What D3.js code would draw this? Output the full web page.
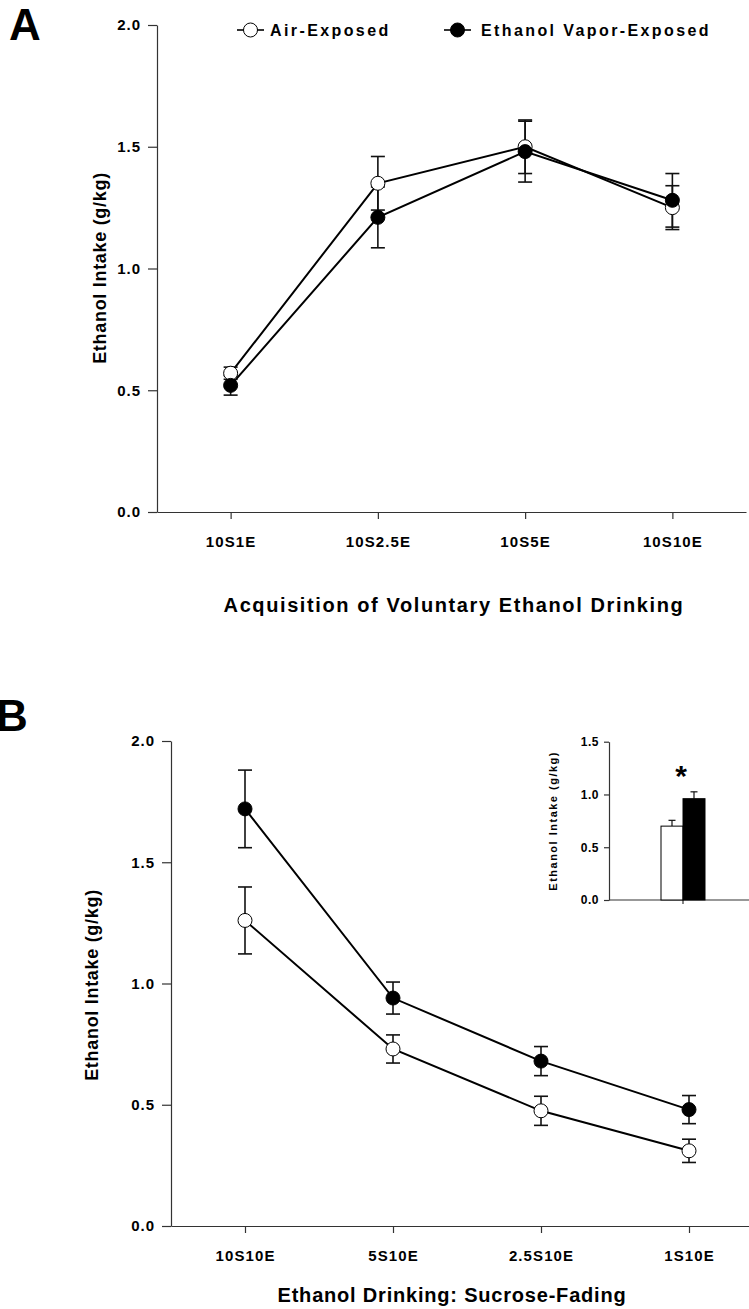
<!DOCTYPE html>
<html>
<head>
<meta charset="utf-8">
<script src="https://cdn.jsdelivr.net/npm/d3@7"></script>
<style>
  body { margin: 0; background: #fff; }
  svg { display: block; font-family: "Liberation Sans", Arial, sans-serif; font-weight: bold; }
  .axis path, .axis line { stroke: #333; stroke-width: 1.2; }
  .axis text { fill: #000; font-weight: bold; }
  .dataLine { fill: none; stroke: #000; stroke-width: 2; }
  .errBar { stroke: #111; stroke-width: 1.6; }
</style>
</head>
<body>
<div class="chart"></div>
<script>
var w = 749;
var h = 1309;

// panel A - acquisition
var catsA = ["10S1E", "10S2.5E", "10S5E", "10S10E"];
var airA = [0.57, 1.35, 1.50, 1.25];
var airAErr = [0.025, 0.11, 0.11, 0.09];
var ethA = [0.52, 1.21, 1.48, 1.28];
var ethAErr = [0.04, 0.125, 0.125, 0.11];

// panel B - sucrose fading
var catsB = ["10S10E", "5S10E", "2.5S10E", "1S10E"];
var airB = [1.26, 0.73, 0.475, 0.31];
var airBErr = [0.138, 0.058, 0.06, 0.048];
var ethB = [1.72, 0.94, 0.68, 0.48];
var ethBErr = [0.16, 0.066, 0.06, 0.058];

// inset bars (panel B)
var insetGroups = ["Air-Exposed", "Ethanol Vapor-Exposed"];
var insetVals = [0.70, 0.96];
var insetErr = [0.055, 0.065];

var yTicks = [0, 0.5, 1.0, 1.5, 2.0];
var insetTicks = [0, 0.5, 1.0, 1.5];
var seriesNames = ["Air-Exposed", "Ethanol Vapor-Exposed"];
var seriesFill = ["#fff", "#000"];

var svg = d3.select(".chart").append("svg")
  .attr("width", w)
  .attr("height", h);

svg.append("rect").attr("width", w).attr("height", h).attr("fill", "#fff");

var fmt = d3.format(".1f");

var linePanel = function(opt) {
  var xScale = d3.scalePoint()
    .domain(opt.cats)
    .range([opt.left, opt.right])
    .padding(0.5);
  var yScale = d3.scaleLinear()
    .domain([0, 2])
    .range([opt.bottom, opt.top]);

  var yAxis = d3.axisLeft(yScale)
    .tickValues(yTicks)
    .tickFormat(fmt)
    .tickSize(9)
    .tickPadding(7)
    .tickSizeOuter(0);
  var xAxis = d3.axisBottom(xScale)
    .tickSize(7)
    .tickPadding(17)
    .tickSizeOuter(0);

  var gy = svg.append("g")
    .attr("class", "axis")
    .attr("transform", "translate(" + opt.left + ",0)")
    .call(yAxis);
  gy.selectAll("text").style("font-size", "15px").style("letter-spacing", "1px");

  var gx = svg.append("g")
    .attr("class", "axis")
    .attr("transform", "translate(0," + opt.bottom + ")")
    .call(xAxis);
  gx.selectAll("text").style("font-size", "15px").style("letter-spacing", "1.1px");

  svg.append("text")
    .attr("text-anchor", "middle")
    .attr("transform", "translate(" + opt.yLabelX + "," + opt.yLabelY + ") rotate(-90)")
    .style("font-size", "18px")
    .style("letter-spacing", "0.7px")
    .text("Ethanol Intake (g/kg)");

  svg.append("text")
    .attr("text-anchor", "middle")
    .attr("x", opt.titleX)
    .attr("y", opt.titleY)
    .style("font-size", "20px")
    .style("letter-spacing", opt.titleSpacing)
    .text(opt.title);

  svg.append("text")
    .attr("x", opt.letterX)
    .attr("y", opt.letterY)
    .style("font-size", "44px")
    .text(opt.letter);

  var series = [
    {vals: opt.air, err: opt.airErr, fill: seriesFill[0]},
    {vals: opt.eth, err: opt.ethErr, fill: seriesFill[1]}
  ];

  var line = d3.line()
    .x(function(d, i) { return xScale(opt.cats[i]); })
    .y(function(d) { return yScale(d); });

  series.forEach(function(s) {
    svg.append("path")
      .datum(s.vals)
      .attr("class", "dataLine")
      .attr("d", line);
  });

  series.forEach(function(s) {
    var g = svg.append("g");
    s.vals.forEach(function(v, i) {
      var cx = xScale(opt.cats[i]);
      g.append("line").attr("class", "errBar")
        .attr("x1", cx).attr("x2", cx)
        .attr("y1", yScale(v - s.err[i])).attr("y2", yScale(v + s.err[i]));
      [v - s.err[i], v + s.err[i]].forEach(function(e) {
        g.append("line").attr("class", "errBar")
          .attr("x1", cx - 7).attr("x2", cx + 7)
          .attr("y1", yScale(e)).attr("y2", yScale(e));
      });
    });
  });

  series.forEach(function(s) {
    svg.append("g").selectAll("circle")
      .data(s.vals)
      .enter()
      .append("circle")
      .attr("cx", function(d, i) { return xScale(opt.cats[i]); })
      .attr("cy", function(d) { return yScale(d); })
      .attr("r", 7)
      .attr("fill", s.fill)
      .attr("stroke", "#000")
      .attr("stroke-width", 1);
  });
};

linePanel({
  cats: catsA, air: airA, airErr: airAErr, eth: ethA, ethErr: ethAErr,
  left: 157, right: 746, top: 25, bottom: 512,
  yLabelX: 106, yLabelY: 268,
  titleX: 454, titleY: 612, titleSpacing: "1.6px",
  title: "Acquisition of Voluntary Ethanol Drinking",
  letter: "A", letterX: 9, letterY: 40
});

linePanel({
  cats: catsB, air: airB, airErr: airBErr, eth: ethB, ethErr: ethBErr,
  left: 171, right: 763, top: 741, bottom: 1226,
  yLabelX: 98, yLabelY: 985,
  titleX: 452, titleY: 1302, titleSpacing: "0.8px",
  title: "Ethanol Drinking: Sucrose-Fading",
  letter: "B", letterX: -4, letterY: 731
});

// legend (panel A)
var legendX = [237, 444];
var legendTextX = [33, 37];
seriesNames.forEach(function(name, i) {
  var lg = svg.append("g").attr("transform", "translate(" + legendX[i] + ",30)");
  lg.append("line")
    .attr("x1", 0).attr("x2", 27)
    .attr("y1", 0).attr("y2", 0)
    .attr("stroke", "#000").attr("stroke-width", 1.6);
  lg.append("circle")
    .attr("cx", 13.5).attr("cy", 0).attr("r", 7)
    .attr("fill", seriesFill[i]).attr("stroke", "#000");
  lg.append("text")
    .attr("x", legendTextX[i]).attr("y", 6)
    .style("font-size", "16px")
    .style("letter-spacing", "2.4px")
    .text(name);
});

// inset bar chart
var insetLeft = 609, insetRight = 749, insetTop = 741.7, insetBottom = 900;
var iy = d3.scaleLinear().domain([0, 1.5]).range([insetBottom, insetTop]);
var ix = d3.scaleBand().domain(insetGroups).range([661, 705]).paddingInner(0);

var giy = svg.append("g")
  .attr("class", "axis")
  .attr("transform", "translate(" + insetLeft + ",0)")
  .call(d3.axisLeft(iy).tickValues(insetTicks).tickFormat(fmt).tickSize(5).tickPadding(5).tickSizeOuter(0));
giy.selectAll("text").style("font-size", "12px").style("letter-spacing", "0.5px");

svg.append("line")
  .attr("x1", insetLeft).attr("x2", insetRight)
  .attr("y1", insetBottom).attr("y2", insetBottom)
  .attr("stroke", "#333").attr("stroke-width", 1.2);
svg.append("line")
  .attr("x1", ix(insetGroups[1])).attr("x2", ix(insetGroups[1]))
  .attr("y1", insetBottom).attr("y2", insetBottom + 4)
  .attr("stroke", "#333").attr("stroke-width", 1.2);

insetGroups.forEach(function(gname, i) {
  var cx = ix(gname) + ix.bandwidth() / 2;
  var top = iy(insetVals[i] + insetErr[i]);
  svg.append("line").attr("class", "errBar")
    .attr("x1", cx).attr("x2", cx)
    .attr("y1", iy(insetVals[i])).attr("y2", top)
    .style("stroke-width", 1.2);
  svg.append("line").attr("class", "errBar")
    .attr("x1", cx - 3.5).attr("x2", cx + 3.5)
    .attr("y1", top).attr("y2", top)
    .style("stroke-width", 1.2);
});

svg.selectAll("rect.insetBar")
  .data(insetVals)
  .enter()
  .append("rect")
  .attr("class", "insetBar")
  .attr("x", function(d, i) { return ix(insetGroups[i]); })
  .attr("y", function(d) { return iy(d); })
  .attr("width", ix.bandwidth())
  .attr("height", function(d) { return insetBottom - iy(d); })
  .attr("fill", function(d, i) { return seriesFill[i]; })
  .attr("stroke", "#000")
  .attr("stroke-width", 1);

svg.append("text")
  .attr("text-anchor", "middle")
  .attr("x", ix(insetGroups[1]) - 2)
  .attr("y", iy(1.30) + 23)
  .style("font-size", "30px")
  .text("*");

svg.append("text")
  .attr("text-anchor", "middle")
  .attr("transform", "translate(557," + iy(0.75) + ") rotate(-90)")
  .style("font-size", "11px")
  .style("letter-spacing", "1.5px")
  .text("Ethanol Intake (g/kg)");
</script>
</body>
</html>
